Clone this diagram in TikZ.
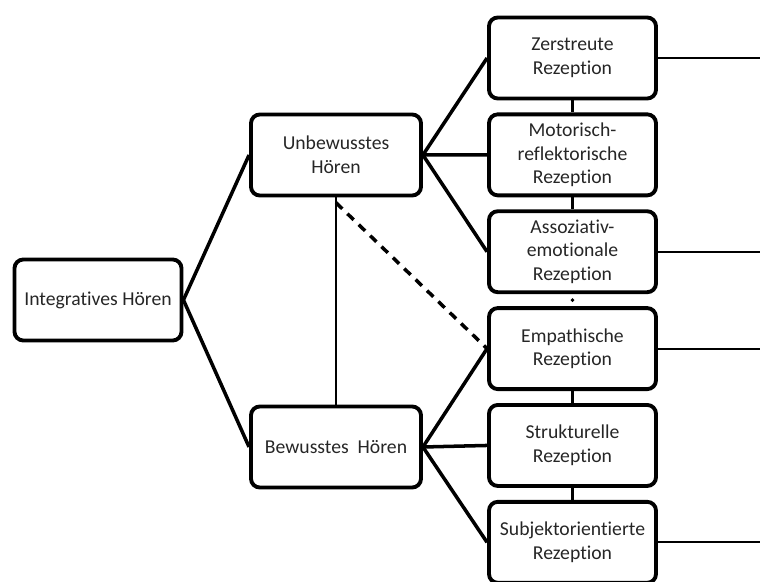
\documentclass[tikz,border=0pt]{standalone}
\usepackage{fontspec}
\setmainfont{Carlito}[Ligatures={NoCommon}]
\usetikzlibrary{positioning,calc}

\begin{document}
\begin{tikzpicture}[
    node distance=0.24cm and 1.2cm,
    box/.style={draw, line width=2.2pt, rounded corners=5pt, minimum width=3.34cm, minimum height=1.62cm, font=\fontsize{11.2}{13.4}\selectfont, align=center, text=black!85},
    link/.style={line width=2pt},
    thinlink/.style={line width=1.2pt}
]
    \useasboundingbox (0,0) rectangle (15.2,-11.64);
    \coordinate (edge) at (15.2,0);

    \node[box] (integ) at (1.96,-6.0) {Integratives Hören};
    \node[box, minimum width=3.4cm] (unbew) at (6.72,-3.1) {Unbewusstes\\Hören};
    \node[box, minimum width=3.4cm] (bew) at (6.72,-8.94) {Bewusstes~ Hören};

    \node[box] (zerst) at (11.45,-1.16) {Zerstreute\\Rezeption};
    \node[box, below=of zerst] (motor) {Motorisch-\\reflektorische\\Rezeption};
    \node[box, below=of motor] (assoz) {Assoziativ-\\emotionale\\Rezeption};
    \node[box, below=of assoz] (empath) {Empathische\\Rezeption};
    \node[box, below=of empath] (strukt) {Strukturelle\\Rezeption};
    \node[box, below=of strukt] (subj) {Subjektorientierte\\Rezeption};

    \draw[link] (integ.east) -- (unbew.west);
    \draw[link] (integ.east) -- (bew.west);
    \draw[link] (unbew.east) -- (zerst.west);
    \draw[link] (unbew.east) -- (motor.west);
    \draw[link] (unbew.east) -- (assoz.west);
    \draw[link] (bew.east) -- (empath.west);
    \draw[link] (bew.east) -- (strukt.west);
    \draw[link] (bew.east) -- (subj.west);

    \draw[thinlink] (unbew.south) -- (bew.north);
    \draw[link, dash pattern=on 5pt off 4pt] ([yshift=-3pt]unbew.south) -- (empath.west);

    \draw[thinlink] (zerst) -- (motor);
    \draw[thinlink] (motor) -- (assoz);
    \fill ($(assoz.south)!0.5!(empath.north)$) circle (1.1pt);
    \draw[thinlink] (empath) -- (strukt);
    \draw[thinlink] (strukt) -- (subj);

    \draw[thinlink] (zerst.east) -- (zerst.east -| edge);
    \draw[thinlink] (assoz.east) -- (assoz.east -| edge);
    \draw[thinlink] (empath.east) -- (empath.east -| edge);
    \draw[thinlink] (subj.east) -- (subj.east -| edge);
\end{tikzpicture}
\end{document}
